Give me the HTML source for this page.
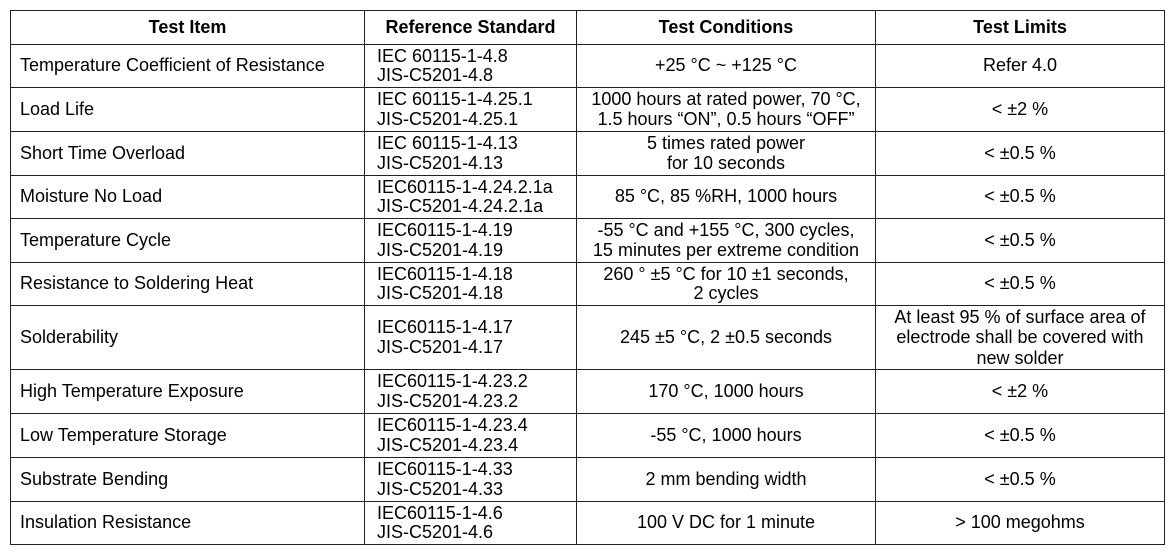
<!DOCTYPE html>
<html><head><meta charset="utf-8"><style>
body{margin:0;background:#fff;width:1173px;height:552px;overflow:hidden}
table{position:absolute;left:10px;top:10px;border-collapse:collapse;font-family:"Liberation Sans",Arial,sans-serif;font-size:18px;color:#000;table-layout:fixed}
td,th{border:1.5px solid #222;padding:0 0 0 9px;line-height:19.5px;vertical-align:middle;white-space:nowrap;overflow:visible}
th{font-weight:bold;text-align:center;padding:0;height:33px}
td.c{text-align:center;padding:0}
td.s{padding-left:12px}
</style></head><body>
<table>
<colgroup><col style="width:354px"><col style="width:212px"><col style="width:299px"><col style="width:289px"></colgroup>
<tr><th>Test Item</th><th>Reference Standard</th><th>Test Conditions</th><th>Test Limits</th></tr>
<tr style="height:43px"><td>Temperature Coefficient of Resistance</td><td class="s">IEC 60115-1-4.8<br>JIS-C5201-4.8</td><td class="c">+25 °C ~ +125 °C</td><td class="c">Refer 4.0</td></tr>
<tr style="height:44px"><td>Load Life</td><td class="s">IEC 60115-1-4.25.1<br>JIS-C5201-4.25.1</td><td class="c">1000 hours at rated power, 70 °C,<br>1.5 hours “ON”, 0.5 hours “OFF”</td><td class="c">&lt; ±2 %</td></tr>
<tr style="height:44px"><td>Short Time Overload</td><td class="s">IEC 60115-1-4.13<br>JIS-C5201-4.13</td><td class="c">5 times rated power<br>for 10 seconds</td><td class="c">&lt; ±0.5 %</td></tr>
<tr style="height:43px"><td>Moisture No Load</td><td class="s">IEC60115-1-4.24.2.1a<br>JIS-C5201-4.24.2.1a</td><td class="c">85 °C, 85 %RH, 1000 hours</td><td class="c">&lt; ±0.5 %</td></tr>
<tr style="height:44px"><td>Temperature Cycle</td><td class="s">IEC60115-1-4.19<br>JIS-C5201-4.19</td><td class="c">-55 °C and +155 °C, 300 cycles,<br>15 minutes per extreme condition</td><td class="c">&lt; ±0.5 %</td></tr>
<tr style="height:43px"><td>Resistance to Soldering Heat</td><td class="s">IEC60115-1-4.18<br>JIS-C5201-4.18</td><td class="c">260 ° ±5 °C for 10 ±1 seconds,<br>2 cycles</td><td class="c">&lt; ±0.5 %</td></tr>
<tr style="height:64px"><td>Solderability</td><td class="s">IEC60115-1-4.17<br>JIS-C5201-4.17</td><td class="c">245 ±5 °C, 2 ±0.5 seconds</td><td class="c" style="line-height:20.5px">At least 95 % of surface area of<br>electrode shall be covered with<br>new solder</td></tr>
<tr style="height:44px"><td>High Temperature Exposure</td><td class="s">IEC60115-1-4.23.2<br>JIS-C5201-4.23.2</td><td class="c">170 °C, 1000 hours</td><td class="c">&lt; ±2 %</td></tr>
<tr style="height:44px"><td>Low Temperature Storage</td><td class="s">IEC60115-1-4.23.4<br>JIS-C5201-4.23.4</td><td class="c">-55 °C, 1000 hours</td><td class="c">&lt; ±0.5 %</td></tr>
<tr style="height:44px"><td>Substrate Bending</td><td class="s">IEC60115-1-4.33<br>JIS-C5201-4.33</td><td class="c">2 mm bending width</td><td class="c">&lt; ±0.5 %</td></tr>
<tr style="height:43px"><td>Insulation Resistance</td><td class="s">IEC60115-1-4.6<br>JIS-C5201-4.6</td><td class="c">100 V DC for 1 minute</td><td class="c">&gt; 100 megohms</td></tr>
</table>
</body></html>
